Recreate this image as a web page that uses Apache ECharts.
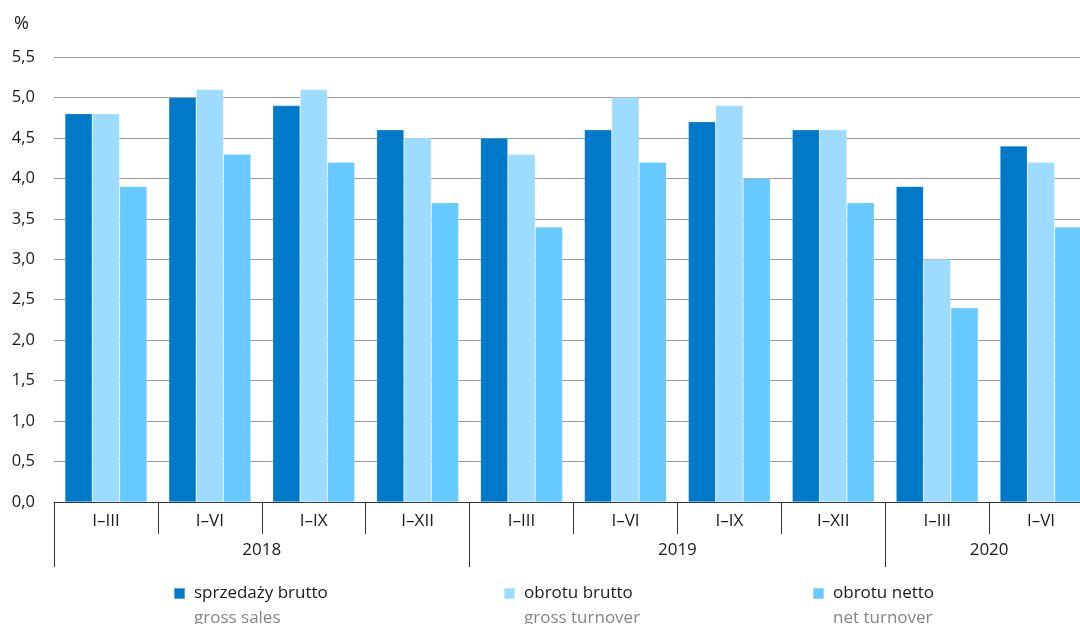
<!DOCTYPE html>
<html>
<head>
<meta charset="utf-8">
<script src="https://cdn.jsdelivr.net/npm/echarts@6/dist/echarts.min.js"></script>
<style>
html,body{margin:0;padding:0;background:#fff;}
#c{width:1080px;height:624px;}
</style>
</head>
<body>
<div id="c"></div>
<script>
var categories = ['I–III','I–VI','I–IX','I–XII','I–III','I–VI','I–IX','I–XII','I–III','I–VI'];
var years = ['2018','2019','2020'];
var yearCenters = [1.5, 5.5, 8.5];
var yearBounds = [-0.5, 3.5, 7.5];
var grossSales = [4.8, 5.0, 4.9, 4.6, 4.5, 4.6, 4.7, 4.6, 3.9, 4.4];
var grossTurnover = [4.8, 5.1, 5.1, 4.5, 4.3, 5.0, 4.9, 4.6, 3.0, 4.2];
var netTurnover = [3.9, 4.3, 4.2, 3.7, 3.4, 4.2, 4.0, 3.7, 2.4, 3.4];
var yTicks = ['0,0','0,5','1,0','1,5','2,0','2,5','3,0','3,5','4,0','4,5','5,0','5,5'];
var seriesNames = ['sprzedaży brutto','obrotu brutto','obrotu netto'];
var seriesEn = ['gross sales','gross turnover','net turnover'];
var colors = ['#0079c9','#9edcff','#66c9ff'];

var FONT = '"Open Sans", "Noto Sans", sans-serif';
var chart = echarts.init(document.getElementById('c'), null, {renderer:'canvas'});

function mkLegend(i, left) {
  return {
    data: [seriesNames[i]],
    left: left,
    top: 585,
    padding: 0,
    icon: 'rect',
    itemWidth: 11,
    itemHeight: 11,
    itemGap: 0,
    selectedMode: false,
    formatter: function (name) {
      return '{a|' + name + '}\n{b|' + seriesEn[seriesNames.indexOf(name)] + '}';
    },
    textStyle: {
      padding: [25, 0, 0, 4],
      rich: {
        a: {fontFamily: FONT, fontSize: 17, color: '#1a1a1a', lineHeight: 25},
        b: {fontFamily: FONT, fontSize: 17, color: '#858585', lineHeight: 25}
      }
    }
  };
}

function mkSeries(i, data) {
  return {
    name: seriesNames[i],
    type: 'bar',
    data: data,
    barGap: '0%',
    barCategoryGap: '21%',
    itemStyle: {color: colors[i], borderColor: 'rgba(255,255,255,0.35)', borderWidth: 0.6},
    emphasis: {disabled: true}
  };
}

chart.setOption({
  animation: false,
  color: colors,
  title: {
    text: '%',
    left: 9,
    top: 10,
    textStyle: {fontFamily: FONT, fontSize: 18, fontWeight: 'normal', color: '#1a1a1a'}
  },
  grid: {left: 54, right: -13, top: 57, bottom: 122, containLabel: false, outerBoundsMode: 'none'},
  legend: [mkLegend(0, 173), mkLegend(1, 503), mkLegend(2, 812)],
  xAxis: [
    {
      type: 'category',
      data: categories,
      position: 'bottom',
      axisLine: {show: true, lineStyle: {color: '#333', width: 1}},
      axisTick: {show: true, length: 32, lineStyle: {color: '#333', width: 1}},
      axisLabel: {fontFamily: FONT, fontSize: 17, color: '#1a1a1a', margin: 11},
      splitLine: {show: false}
    },
    {
      type: 'value',
      min: -0.5,
      max: 9.5,
      position: 'bottom',
      axisLine: {show: false},
      axisTick: {show: true, customValues: yearBounds, length: 65, lineStyle: {color: '#333', width: 1}},
      axisLabel: {
        show: true,
        customValues: yearCenters,
        margin: 40,
        fontFamily: FONT, fontSize: 17, color: '#1a1a1a',
        formatter: function (v) {
          var idx = yearCenters.indexOf(v);
          return idx >= 0 ? years[idx] : '';
        }
      },
      splitLine: {show: false}
    }
  ],
  yAxis: {
    type: 'value',
    min: 0,
    max: 5.5,
    interval: 0.5,
    axisLine: {show: false},
    axisTick: {show: false},
    axisLabel: {
      fontFamily: FONT, fontSize: 16.5, color: '#1a1a1a', margin: 19,
      formatter: function (v) { return yTicks[Math.round(v / 0.5)]; }
    },
    splitLine: {show: true, lineStyle: {color: '#9a9a9a', width: 1}}
  },
  series: [
    mkSeries(0, grossSales),
    mkSeries(1, grossTurnover),
    mkSeries(2, netTurnover)
  ]
});
</script>
</body>
</html>
